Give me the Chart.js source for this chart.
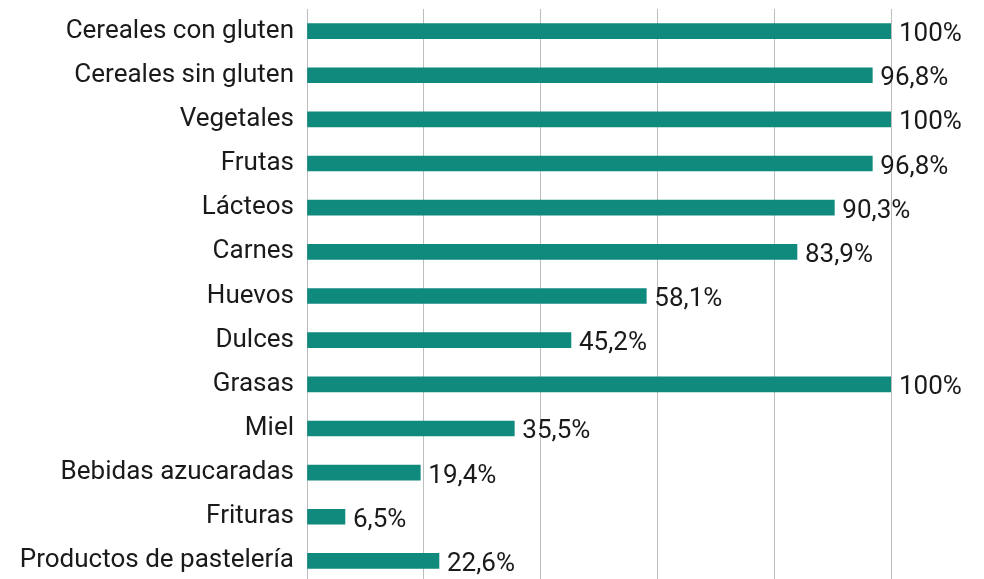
<!DOCTYPE html>
<html>
<head>
<meta charset="utf-8">
<script src="https://cdn.jsdelivr.net/npm/chart.js@4"></script>
<style>
  html, body { margin: 0; padding: 0; background: #fff; overflow: hidden; }
  #wrap { width: 984px; height: 583px; }
</style>
</head>
<body>
<div id="wrap"><canvas id="alimentos" width="984" height="583"></canvas></div>
<script>
var categorias = [
  "Cereales con gluten", "Cereales sin gluten", "Vegetales", "Frutas", "Lácteos",
  "Carnes", "Huevos", "Dulces", "Grasas", "Miel", "Bebidas azucaradas",
  "Frituras", "Productos de pastelería"
];
var porcentajes = [100, 96.8, 100, 96.8, 90.3, 83.9, 58.1, 45.2, 100, 35.5, 19.4, 6.5, 22.6];
var etiquetas = ["100%", "96,8%", "100%", "96,8%", "90,3%", "83,9%", "58,1%", "45,2%", "100%", "35,5%", "19,4%", "6,5%", "22,6%"];

// etiquetas de valor al final de cada barra
var valorPlugin = {
  id: "valores",
  afterDatasetsDraw: function(chart) {
    var ctx = chart.ctx;
    var meta = chart.getDatasetMeta(0);
    ctx.save();
    ctx.font = "26px Roboto";
    ctx.fillStyle = "#1a1a1a";
    ctx.textAlign = "left";
    ctx.textBaseline = "alphabetic";
    meta.data.forEach(function(bar, i) {
      ctx.fillText(etiquetas[i], bar.x + 8, bar.y + 10);
    });
    ctx.restore();
  }
};

var ctx = document.getElementById("alimentos").getContext("2d");
var chart = new Chart(ctx, {
  type: "bar",
  data: {
    labels: categorias,
    datasets: [{
      data: porcentajes,
      backgroundColor: "#118a7e",
      barThickness: 15
    }]
  },
  options: {
    indexAxis: "y",
    responsive: false,
    animation: false,
    layout: { padding: { top: 9, right: 93, bottom: 0, left: 0 } },
    plugins: { legend: { display: false }, tooltip: { enabled: false } },
    scales: {
      x: {
        min: 0, max: 100,
        ticks: { display: false, stepSize: 20 },
        grid: { color: "#bdbdbd", lineWidth: 1, drawTicks: false },
        border: { display: false },
        afterFit: function(scale) { scale.height = 0; scale.paddingLeft = 0; scale.paddingRight = 0; }
      },
      y: {
        afterFit: function(scale) { scale.width = 307; scale.paddingTop = 0; scale.paddingBottom = 0; },
        ticks: { color: "#1a1a1a", font: { family: "Roboto", size: 26 }, padding: 13 },
        grid: { display: false, drawTicks: false },
        border: { display: false }
      }
    }
  },
  plugins: [valorPlugin]
});
</script>
</body>
</html>
